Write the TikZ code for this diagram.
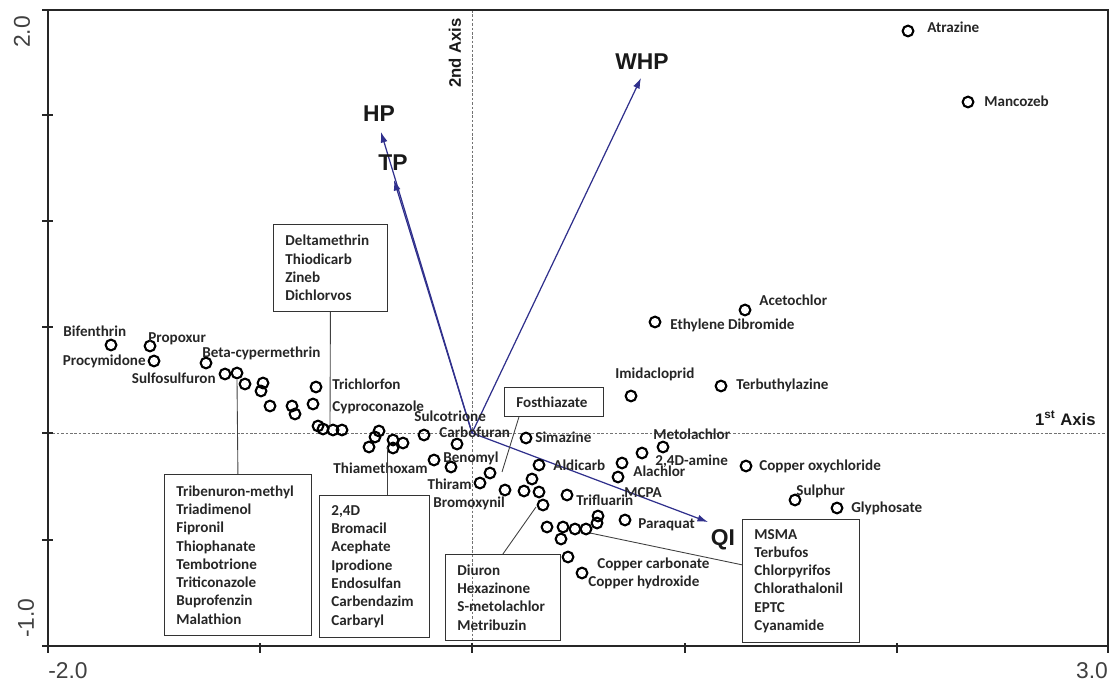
\documentclass[tikz,border=0pt]{standalone}
\usepackage{fontspec}
\setmainfont{Carlito}
\newfontfamily\arialfont{Liberation Sans}
\usetikzlibrary{calc,arrows.meta}
\definecolor{vecblue}{RGB}{48,48,140}
\newcommand\labfont{\fontsize{8.6}{10.4}\selectfont\bfseries}
\tikzset{
  pt/.style={circle, draw=black, line width=1.2pt, minimum size=6.1pt, inner sep=0pt},
  lab/.style={font=\labfont, text=black!85, inner sep=0pt, anchor=mid west},
  labl/.style={lab, anchor=mid east},
  listbox/.style={draw=black!80, line width=0.5pt, font=\labfont, text=black!85, align=left, inner xsep=0.24cm, inner ysep=2pt, anchor=north west},
  big/.style={font=\arialfont\fontsize{13}{13}\selectfont\bfseries, text=black!90, inner sep=0pt},
  vec/.style={draw=vecblue, line width=0.7pt, -{Latex[length=6pt,width=4pt]}},
  axisdot/.style={draw=black!55, line width=0.5pt, dash pattern=on 1.5pt off 1pt},
  ticklab/.style={font=\arialfont\fontsize{13}{13}\selectfont, text=black!75, inner sep=0pt},
  axname/.style={font=\arialfont\fontsize{9.5}{9.5}\selectfont\bfseries, text=black!90, inner sep=0pt},
  link/.style={draw=black!75, line width=0.5pt}
}

\begin{document}
\begin{tikzpicture}[x=0.02cm, y=-0.02cm]
			%%%%% START %%%%%
			\useasboundingbox (0,0) rectangle (1113,682);
			
			\draw[axisdot] (48,433) -- (1108,433);
			\draw[axisdot] (472,10) -- (472,646);
			
			\draw[line width=1.1pt, black!85] (48,10) rectangle (1108,646);
			\draw[line width=1.7pt, black!85] (48,10) -- (48,646) -- (1108,646);
			\foreach \ty in {10,115,221,327,433,540,646}
				\draw[line width=1.1pt, black!85] (42,\ty) -- (53,\ty);
			\foreach \tx in {48,260,472,685,897,1108}
				\draw[line width=1.1pt, black!85] (\tx,643) -- (\tx,653);
			
			\node[ticklab, rotate=90] (ytop) at (22,32) {2.0};
			\node[ticklab, rotate=90] (ybot) at (26,618) {-1.0};
			\node[ticklab] (xleft) at (68,671) {-2.0};
			\node[ticklab] (xright) at (1092,671) {3.0};
			
			\node[axname, rotate=90] (axtwo) at (455,53) {2nd Axis};
			\node[axname, anchor=east] (axone) at (1096,418) {1\textsuperscript{st} Axis};
			
			% vectors
			\coordinate (o) at (472,433);
			\coordinate (hptip) at (381,132);
			\coordinate (tptip) at (394,180);
			\coordinate (whptip) at (641,78);
			\coordinate (qitip) at (708,522);
			\draw[vec] (o) -- (hptip);
			\draw[vec] (o) -- (tptip);
			\draw[vec] (o) -- (whptip);
			\draw[vec] (o) -- (qitip);
			\node[big] (hp) at (379,114) {HP};
			\node[big] (tp) at (393,163) {TP};
			\node[big] (whp) at (642,62) {WHP};
			\node[big] (qi) at (723,540) {QI};
			
			% points, left
			\node[pt] (bifenthrin) at (111,345) {};
			\node[pt] (propoxur) at (150,346) {};
			\node[pt] (procymidone) at (154,361) {};
			\node[pt] (betacyp) at (206,363) {};
			\node[pt] (sulfosulfuron) at (225,374) {};
			\node[pt] (c1) at (237,373) {};
			\node[pt] (c2) at (245,384) {};
			\node[pt] (c3) at (263,383) {};
			\node[pt] (c4) at (261,391) {};
			\node[pt] (c5) at (270,406) {};
			\node[pt] (c6) at (292,406) {};
			\node[pt] (c7) at (295,414) {};
			\node[pt] (trichlorfon) at (316,387) {};
			\node[pt] (cyproconazole) at (313,404) {};
			\node[pt] (c8) at (318,426) {};
			\node[pt] (c9) at (323,429) {};
			\node[pt] (c10) at (333,430) {};
			\node[pt] (c11) at (342,430) {};
			\node[pt] (c12) at (379,431) {};
			\node[pt] (c13) at (375,437) {};
			\node[pt] (c14) at (369,447) {};
			\node[pt] (c15) at (393,440) {};
			\node[pt] (c16) at (393,448) {};
			\node[pt] (c17) at (403,443) {};
			\node[pt] (sulcotrione) at (424,435) {};
			\node[pt] (carbofuran) at (457,444) {};
			\node[pt] (thiamethoxam) at (434,460) {};
			\node[pt] (benomyl) at (451,467) {};
			\node[pt] (thiram) at (480,483) {};
			\node[pt] (c18) at (490,473) {};
			\node[pt] (bromoxynil) at (505,490) {};
			
			% points, right
			\node[pt] (simazine) at (526,438) {};
			\node[pt] (aldicarb) at (539,465) {};
			\node[pt] (c19) at (532,479) {};
			\node[pt] (c20) at (524,491) {};
			\node[pt] (c21) at (539,492) {};
			\node[pt] (c22) at (543,505) {};
			\node[pt] (trifluarin) at (567,495) {};
			\node[pt] (c23) at (547,527) {};
			\node[pt] (c24) at (563,527) {};
			\node[pt] (c25) at (575,529) {};
			\node[pt] (c26) at (586,529) {};
			\node[pt] (c27) at (598,516) {};
			\node[pt] (c28) at (597,523) {};
			\node[pt] (c29) at (561,539) {};
			\node[pt] (coppercarb) at (568,557) {};
			\node[pt] (copperhyd) at (582,573) {};
			\node[pt] (paraquat) at (625,520) {};
			\node[pt] (c30) at (622,463) {};
			\node[pt] (alachlor) at (618,477) {};
			\node[pt] (amine) at (642,453) {};
			\node[pt] (metolachlor) at (663,447) {};
			\node[pt] (imidacloprid) at (631,396) {};
			\node[pt] (terbuthylazine) at (721,386) {};
			\node[pt] (ethylene) at (655,322) {};
			\node[pt] (acetochlor) at (745,310) {};
			\node[pt] (oxychloride) at (746,466) {};
			\node[pt] (sulphur) at (795,500) {};
			\node[pt] (glyphosate) at (837,508) {};
			\node[pt] (atrazine) at (908,31) {};
			\node[pt] (mancozeb) at (968,102) {};
			
			% labels
			\node[lab] (lbifenthrin) at (63,332) {Bifenthrin};
			\node[lab] (lpropoxur) at (148,338) {Propoxur};
			\node[labl] (lprocymidone) at (146,361) {Procymidone};
			\node[lab] (lbetacyp) at (202,353) {Beta-cypermethrin};
			\node[labl] (lsulfosulfuron) at (216,379) {Sulfosulfuron};
			\node[lab] (ltrichlorfon) at (332,385) {Trichlorfon};
			\node[lab] (lcyproconazole) at (332,407) {Cyproconazole};
			\node[lab] (lsulcotrione) at (414,417) {Sulcotrione};
			\node[lab] (lcarbofuran) at (439,433) {Carbofuran};
			\node[lab] (lbenomyl) at (443,458) {Benomyl};
			\node[labl] (lthiamethoxam) at (428,469) {Thiamethoxam};
			\node[labl] (lthiram) at (472,485) {Thiram};
			\node[lab] (lbromoxynil) at (433,503) {Bromoxynil};
			\node[lab] (lsimazine) at (535,438) {Simazine};
			\node[lab] (laldicarb) at (553,466) {Aldicarb};
			\node[lab] (lmetolachlor) at (653,435) {Metolachlor};
			\node[lab] (lamine) at (655,461) {2,4D-amine};
			\node[lab] (lalachlor) at (633,472) {Alachlor};
			\node[lab] (lmcpa) at (624,493) {MCPA};
			\node[lab] (ltrifluarin) at (576,501) {Trifluarin};
			\node[lab] (lparaquat) at (638,524) {Paraquat};
			\node[lab] (lcoppercarb) at (597,564) {Copper carbonate};
			\node[lab] (lcopperhyd) at (588,582) {Copper hydroxide};
			\node[lab] (loxychloride) at (759,466) {Copper oxychloride};
			\node[lab] (lsulphur) at (796,491) {Sulphur};
			\node[lab] (lglyphosate) at (851,508) {Glyphosate};
			\node[lab] (limidacloprid) at (615,374) {Imidacloprid};
			\node[lab] (lterbuthylazine) at (736,385) {Terbuthylazine};
			\node[lab] (lethylene) at (670,325) {Ethylene Dibromide};
			\node[lab] (lacetochlor) at (759,301) {Acetochlor};
			\node[lab] (latrazine) at (927,28) {Atrazine};
			\node[lab] (lmancozeb) at (984,102) {Mancozeb};
			
			% boxes
			\node[listbox, text width=1.80cm, minimum height=1.74cm] (delta) at (273,224) {Deltamethrin\\Thiodicarb\\Zineb\\Dichlorvos};
			\node[listbox, text width=2.46cm, minimum height=3.22cm] (trib) at (164,474) {Tribenuron-methyl\\Triadimenol\\Fipronil\\Thiophanate\\Tembotrione\\Triticonazole\\Buprofenzin\\Malathion};
			\node[listbox, text width=1.72cm, minimum height=2.84cm] (dfour) at (319,495) {2,4D\\Bromacil\\Acephate\\Iprodione\\Endosulfan\\Carbendazim\\Carbaryl};
			\node[listbox, text width=1.82cm, minimum height=1.72cm] (diuron) at (445,554) {Diuron\\Hexazinone\\S-metolachlor\\Metribuzin};
			\node[listbox, text width=1.86cm, minimum height=2.46cm] (msma) at (742,519) {MSMA\\Terbufos\\Chlorpyrifos\\Chlorathalonil\\EPTC\\Cyanamide};
			\node[listbox, text width=1.50cm, minimum height=0.58cm] (fos) at (504,387) {Fosthiazate};
			
			\coordinate (deltaend) at (330,427);
			\coordinate (tribend) at (237,380);
			\coordinate (dfourend) at (387,447);
			\coordinate (diuronend) at (536,507);
			\coordinate (msmaend) at (590,533);
			\coordinate (fosend) at (502,472);
			\draw[link] (delta.south) -- (deltaend);
			\draw[link] (trib.north) -- (tribend);
			\draw[link] (dfourend) -- (dfourend |- dfour.north);
			\draw[link] (diuron.north) -- (diuronend);
			\draw[link] (msmaend) -- ($(msma.north west)!0.37!(msma.south west)$);
			\draw[link] ($(fos.south west)!0.15!(fos.south east)$) -- (fosend);
			
			%%%%% END %%%%%
\end{tikzpicture}
\end{document}
